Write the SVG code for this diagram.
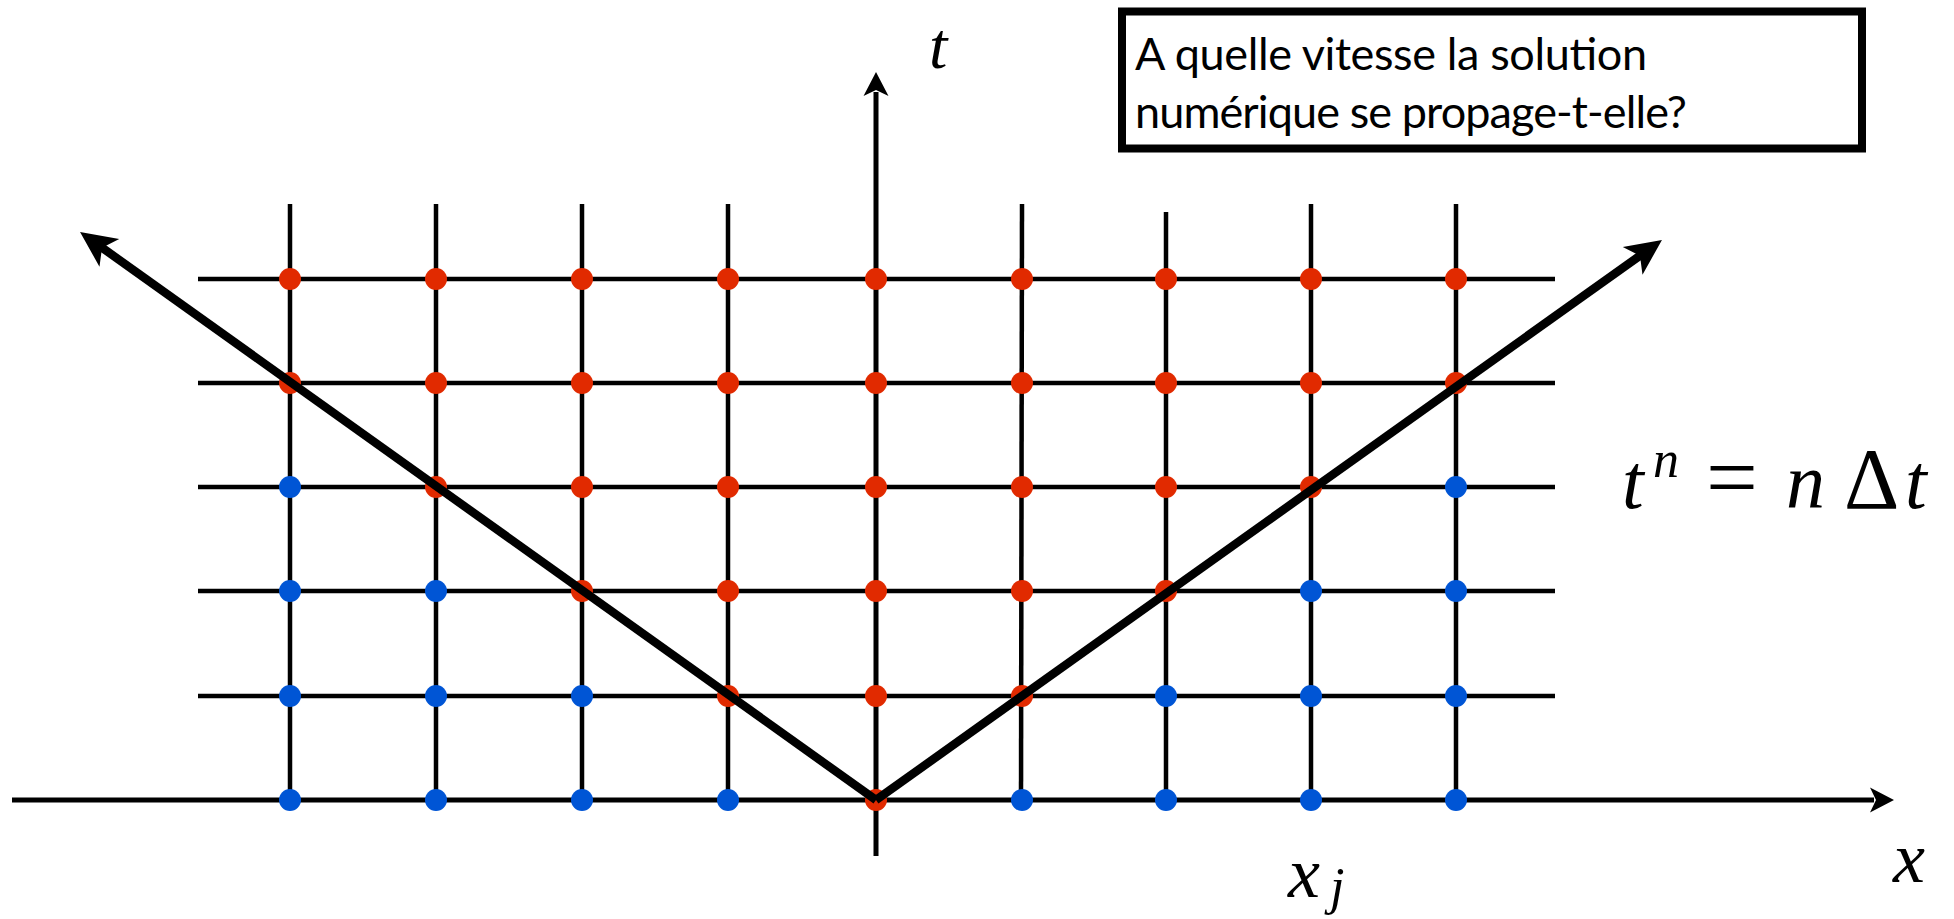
<svg xmlns="http://www.w3.org/2000/svg" width="1954" height="919" viewBox="0 0 1954 919">
<style>
.grid{stroke:#000;stroke-width:4.5;fill:none}
.axis{stroke:#000;stroke-width:5;fill:none}
.diag{stroke:#000;stroke-width:8.5;fill:none}
.r{fill:#e12a00}
.b{fill:#0055d5}
.math{font-family:"Liberation Serif","DejaVu Serif",serif;font-style:italic;fill:#000}
.up{font-style:normal}
.q{font-family:Lato,"Open Sans",sans-serif;font-size:45px;fill:#000}
</style>
<defs>
<marker id="ha" markerUnits="userSpaceOnUse" orient="auto" viewBox="-10 -15 35 30" markerWidth="35" markerHeight="30" refX="0" refY="0" overflow="visible">
<path d="M20 0 L-4 -12.5 L2 0 L-4 12.5 Z" fill="#000"/>
</marker>
<marker id="hd" markerUnits="userSpaceOnUse" orient="auto" viewBox="-15 -20 45 40" markerWidth="45" markerHeight="40" refX="0" refY="0" overflow="visible">
<path d="M25 0 L-11 -17 L-2 0 L-11 17 Z" fill="#000"/>
</marker>
</defs>
<rect width="1954" height="919" fill="#fff"/>
<g id="grid">
<line class="grid" x1="198" y1="279" x2="1555" y2="279"/>
<line class="grid" x1="198" y1="383" x2="1555" y2="383"/>
<line class="grid" x1="198" y1="487" x2="1555" y2="487"/>
<line class="grid" x1="198" y1="591" x2="1555" y2="591"/>
<line class="grid" x1="198" y1="696" x2="1555" y2="696"/>
<line class="grid" x1="290" y1="204" x2="290" y2="800"/>
<line class="grid" x1="436" y1="204" x2="436" y2="800"/>
<line class="grid" x1="582" y1="204" x2="582" y2="800"/>
<line class="grid" x1="728" y1="204" x2="728" y2="800"/>
<line class="grid" x1="1022" y1="204" x2="1021" y2="800"/>
<line class="grid" x1="1166" y1="212" x2="1166" y2="800"/>
<line class="grid" x1="1311" y1="204" x2="1311" y2="800"/>
<line class="grid" x1="1456" y1="204" x2="1456" y2="800"/>
</g>
<g id="axes">
<line class="axis" x1="12" y1="800" x2="1874" y2="800" marker-end="url(#ha)"/>
<line class="axis" x1="876" y1="856" x2="876" y2="92" marker-end="url(#ha)"/>
</g>
<g id="dots">
<circle class="r" cx="290" cy="279" r="11"/><circle class="r" cx="436" cy="279" r="11"/><circle class="r" cx="582" cy="279" r="11"/><circle class="r" cx="728" cy="279" r="11"/><circle class="r" cx="876" cy="279" r="11"/><circle class="r" cx="1022" cy="279" r="11"/><circle class="r" cx="1166" cy="279" r="11"/><circle class="r" cx="1311" cy="279" r="11"/><circle class="r" cx="1456" cy="279" r="11"/>
<circle class="r" cx="290" cy="383" r="11"/><circle class="r" cx="436" cy="383" r="11"/><circle class="r" cx="582" cy="383" r="11"/><circle class="r" cx="728" cy="383" r="11"/><circle class="r" cx="876" cy="383" r="11"/><circle class="r" cx="1022" cy="383" r="11"/><circle class="r" cx="1166" cy="383" r="11"/><circle class="r" cx="1311" cy="383" r="11"/><circle class="r" cx="1456" cy="383" r="11"/>
<circle class="b" cx="290" cy="487" r="11"/><circle class="r" cx="436" cy="487" r="11"/><circle class="r" cx="582" cy="487" r="11"/><circle class="r" cx="728" cy="487" r="11"/><circle class="r" cx="876" cy="487" r="11"/><circle class="r" cx="1022" cy="487" r="11"/><circle class="r" cx="1166" cy="487" r="11"/><circle class="r" cx="1311" cy="487" r="11"/><circle class="b" cx="1456" cy="487" r="11"/>
<circle class="b" cx="290" cy="591" r="11"/><circle class="b" cx="436" cy="591" r="11"/><circle class="r" cx="582" cy="591" r="11"/><circle class="r" cx="728" cy="591" r="11"/><circle class="r" cx="876" cy="591" r="11"/><circle class="r" cx="1022" cy="591" r="11"/><circle class="r" cx="1166" cy="591" r="11"/><circle class="b" cx="1311" cy="591" r="11"/><circle class="b" cx="1456" cy="591" r="11"/>
<circle class="b" cx="290" cy="696" r="11"/><circle class="b" cx="436" cy="696" r="11"/><circle class="b" cx="582" cy="696" r="11"/><circle class="r" cx="728" cy="696" r="11"/><circle class="r" cx="876" cy="696" r="11"/><circle class="r" cx="1022" cy="696" r="11"/><circle class="b" cx="1166" cy="696" r="11"/><circle class="b" cx="1311" cy="696" r="11"/><circle class="b" cx="1456" cy="696" r="11"/>
<circle class="b" cx="290" cy="800" r="11"/><circle class="b" cx="436" cy="800" r="11"/><circle class="b" cx="582" cy="800" r="11"/><circle class="b" cx="728" cy="800" r="11"/><circle class="r" cx="876" cy="800" r="11"/><circle class="b" cx="1022" cy="800" r="11"/><circle class="b" cx="1166" cy="800" r="11"/><circle class="b" cx="1311" cy="800" r="11"/><circle class="b" cx="1456" cy="800" r="11"/>
</g>
<g id="connectors">
<line class="diag" x1="876" y1="800" x2="100.4" y2="246.5" marker-end="url(#hd)"/>
<line class="diag" x1="876" y1="800" x2="1641.6" y2="254.5" marker-end="url(#hd)"/>
</g>
<g id="question">
<rect x="1122" y="11.5" width="740" height="137" fill="#fff" stroke="#000" stroke-width="8"/>
<text class="q" x="1135" y="70" textLength="512">A quelle vitesse la solution</text>
<text class="q" x="1135" y="128" textLength="552">numérique se propage-t-elle?</text>
</g>
<g id="labels">
<text class="math" x="929" y="68" font-size="66">t</text>
<text class="math" x="1622" y="508" font-size="78">t</text>
<text class="math" x="1653" y="477" font-size="52">n</text>
<text class="math up" x="1706" y="508" font-size="92">=</text>
<text class="math" x="1786" y="508" font-size="78">n</text>
<text class="math up" x="1844" y="508" font-size="86">Δ</text>
<text class="math" x="1905" y="508" font-size="78">t</text>
<text class="math" x="1288" y="897" font-size="72">x</text>
<text class="math" x="1330" y="904" font-size="52">j</text>
<text class="math" x="1893" y="882" font-size="72">x</text>
</g>
</svg>
